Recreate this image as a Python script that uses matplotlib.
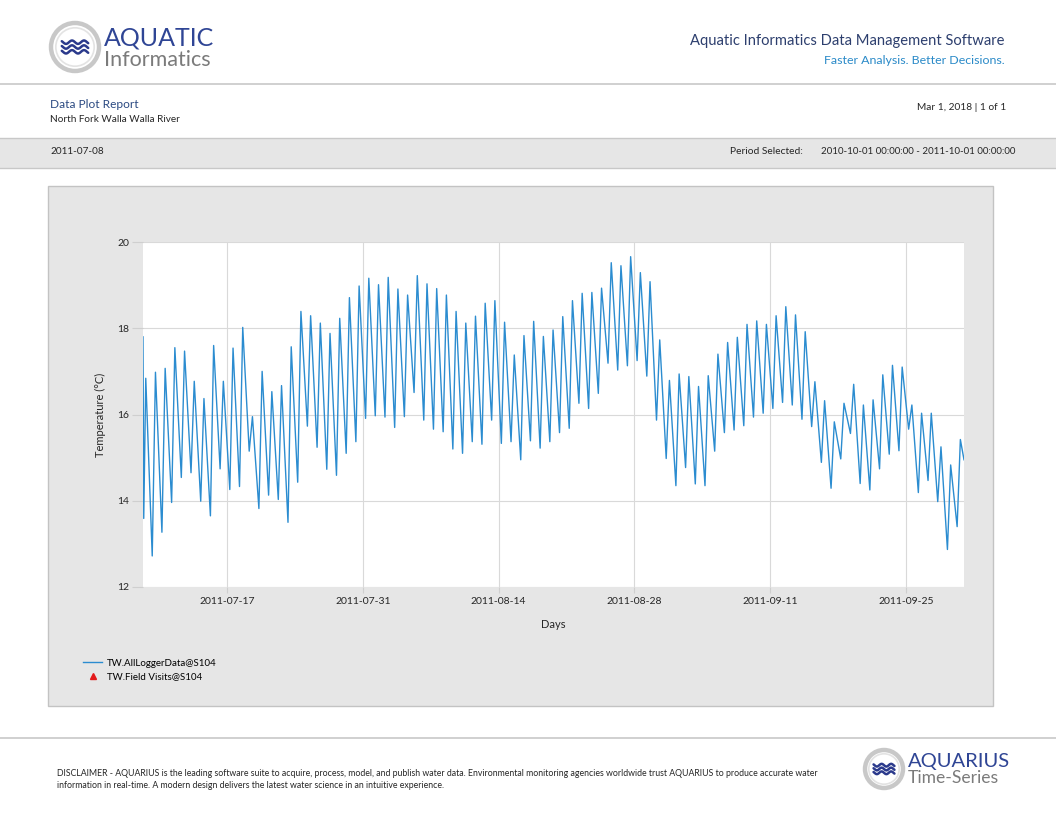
import numpy as np
import pandas as pd
import matplotlib
matplotlib.use("Agg")
import matplotlib.pyplot as plt
from matplotlib.patches import Rectangle, Circle
from matplotlib.lines import Line2D

plt.rcParams['font.family'] = ['Lato', 'DejaVu Sans']

# ---------------- data ----------------
start_date = "2011-07-08"
start_time = "2011-07-08 08:10"
start_value = 17.8
first_trough_time = "2011-07-08 10:00"
end_time = "2011-10-01 00:00"
end_value = 14.95
min_hour = 7
max_hour = 15

daily_min = [13.59, 12.72, 13.27, 13.96, 14.54, 14.65, 13.99, 13.65, 14.74, 14.26,
             14.33, 15.15, 13.82, 14.13, 14.03, 13.50, 14.43, 15.73, 15.24, 14.73,
             14.59, 15.10, 15.37, 15.91, 15.97, 15.94, 15.70, 15.95, 16.51, 15.87,
             15.66, 15.60, 15.20, 15.10, 15.37, 15.31, 15.87, 15.33, 15.37, 14.95,
             15.39, 15.22, 15.37, 15.58, 15.68, 16.26, 16.14, 16.49, 17.19, 17.03,
             17.13, 17.25, 16.89, 15.87, 14.98, 14.35, 14.77, 14.39, 14.35, 15.15,
             15.58, 15.64, 15.74, 15.94, 16.03, 16.14, 16.28, 16.22, 15.89, 15.72,
             14.89, 14.29, 14.97, 15.56, 14.40, 14.25, 14.74, 15.08, 15.16, 15.66,
             14.19, 14.47, 13.98, 12.87, 13.40]
daily_max = [16.84, 16.98, 17.07, 17.55, 17.47, 16.77, 16.37, 17.60, 16.77, 17.54,
             18.02, 15.95, 17.00, 16.53, 16.67, 17.57, 18.39, 18.29, 18.12, 17.88,
             18.23, 18.71, 18.98, 19.16, 19.01, 19.18, 18.91, 18.77, 19.22, 19.03,
             18.92, 18.77, 18.39, 18.12, 18.28, 18.58, 18.64, 18.14, 17.38, 17.83,
             18.16, 17.81, 17.96, 18.27, 18.64, 18.81, 18.83, 18.93, 19.52, 19.45,
             19.66, 19.29, 19.08, 17.73, 16.79, 16.94, 16.88, 16.65, 16.90, 17.40,
             17.67, 17.79, 18.09, 18.17, 18.09, 18.29, 18.50, 18.31, 17.92, 16.76,
             16.32, 15.83, 16.26, 16.70, 16.22, 16.34, 16.92, 17.14, 17.10, 16.22,
             16.03, 16.03, 15.25, 14.83, 15.42]

field_visit_times = []
field_visit_values = []

y_ticks = [12, 14, 16, 18, 20]
x_tick_dates = ["2011-07-17", "2011-07-31", "2011-08-14",
                "2011-08-28", "2011-09-11", "2011-09-25"]
series_label = "TW.AllLoggerData@S104"
field_label = "TW.Field Visits@S104"

# ---------------- series ----------------
days = pd.date_range(start_date, periods=len(daily_min), freq="D")
times = [pd.Timestamp(start_time)]
values = [start_value]
for i, d in enumerate(days):
    tmin = pd.Timestamp(first_trough_time) if i == 0 else d + pd.Timedelta(hours=min_hour)
    times.append(tmin)
    values.append(daily_min[i])
    times.append(d + pd.Timedelta(hours=max_hour))
    values.append(daily_max[i])
times.append(pd.Timestamp(end_time))
values.append(end_value)

# ---------------- figure ----------------
W, H = 1056, 816
fig = plt.figure(figsize=(10.56, 8.16), dpi=100)
fig.patch.set_facecolor("white")
bg = fig.add_axes([0, 0, 1, 1], zorder=0)
bg.set_xlim(0, W)
bg.set_ylim(H, 0)
bg.axis("off")

BLUE = "#2a8ac8"
DARK = "#262626"

# header rules and grey band
bg.plot([0, W], [84, 84], color="#c8c8c8", lw=1.2)
bg.add_patch(Rectangle((0, 138), W, 30, fc="#e6e6e6", ec="none"))
bg.plot([0, W], [138, 138], color="#c8c8c8", lw=1.0)
bg.plot([0, W], [168, 168], color="#c8c8c8", lw=1.0)
bg.plot([0, W], [738, 738], color="#c8c8c8", lw=1.2)

# chart panel
bg.add_patch(Rectangle((48, 186), 945, 520, fc="#e6e6e6", ec="#c3c3c3", lw=1.0))


def draw_logo(cx, cy, r):
    bg.add_patch(Circle((cx, cy), r, fc="white", ec="#c8c8c8", lw=3.2))
    bg.add_patch(Circle((cx, cy), r * 0.8, fc="white", ec="#e3e3e3", lw=1.2))
    xs = np.linspace(cx - 0.55 * r, cx + 0.55 * r, 80)
    for off in (-0.2, 0.0, 0.2):
        ys = cy + off * r + 0.07 * r * np.sin((xs - cx) / r * 4.0 * np.pi)
        bg.plot(xs, ys, color="#2b3a8c", lw=1.8, solid_capstyle="round")


draw_logo(75, 47, 24)
bg.text(104, 38, "AQUATIC", fontsize=18, color="#2f4595", ha="left", va="center")
bg.text(104, 60, "Informatics", fontsize=15.5, color="#7b7b7b", ha="left", va="center")

bg.text(1005, 41, "Aquatic Informatics Data Management Software", fontsize=10.6,
        color="#2d3f6e", ha="right", va="center")
bg.text(1005, 60, "Faster Analysis. Better Decisions.", fontsize=8.9,
        color=BLUE, ha="right", va="center")

bg.text(50, 104, "Data Plot Report", fontsize=8.6, color="#2b4a82", ha="left", va="center")
bg.text(50, 119, "North Fork Walla Walla River", fontsize=7.2, color=DARK, ha="left", va="center")
bg.text(1006, 107, "Mar 1, 2018 | 1 of 1", fontsize=7.3, color=DARK, ha="right", va="center")

bg.text(50, 152, "2011-07-08", fontsize=7.2, color=DARK, ha="left", va="center")
bg.text(803, 152, "Period Selected:", fontsize=7.4, color=DARK, ha="right", va="center")
bg.text(1015, 152, "2010-10-01 00:00:00 - 2011-10-01 00:00:00", fontsize=7.0, color=DARK,
        ha="right", va="center")

# footer
bg.text(57, 774, "DISCLAIMER - AQUARIUS is the leading software suite to acquire, process, model, and "
        "publish water data. Environmental monitoring agencies worldwide trust AQUARIUS to produce "
        "accurate water", fontsize=6.3, color=DARK, ha="left", va="center")
bg.text(57, 786, "information in real-time. A modern design delivers the latest water science in an "
        "intuitive experience.", fontsize=6.3, color=DARK, ha="left", va="center")
draw_logo(884, 769, 19)
bg.text(908, 761, "AQUARIUS", fontsize=14.5, color="#2f4595", ha="left", va="center")
bg.text(908, 778, "Time-Series", fontsize=12.6, color="#7b7b7b", ha="left", va="center")

# ---------------- chart ----------------
ax = fig.add_axes([143 / W, 1 - 587 / H, (964 - 143) / W, (587 - 242) / H], zorder=2)
ax.set_facecolor("white")
line, = ax.plot(times, values, color="#2b8cd0", lw=1.0, label=series_label)
tri, = ax.plot(pd.to_datetime(field_visit_times), field_visit_values, linestyle="none",
               marker="^", color="#e31a1c", markersize=4, label=field_label)
ax.set_xlim(pd.Timestamp(start_time), pd.Timestamp(end_time))
ax.set_ylim(y_ticks[0], y_ticks[-1])
ax.set_yticks(y_ticks)
ax.set_xticks(pd.to_datetime(x_tick_dates))
ax.set_xticklabels(x_tick_dates)
for s in ax.spines.values():
    s.set_visible(False)
ax.grid(True, color="#d9d9d9", lw=0.8)
ax.set_axisbelow(True)
ax.tick_params(axis="y", length=8, width=0.8, color="#cfcfcf", labelsize=7.5,
               labelcolor=DARK, pad=2)
ax.tick_params(axis="x", length=4.5, width=0.8, color="#cfcfcf", labelsize=7.5,
               labelcolor=DARK, pad=3)
ax.set_xlabel("Days", fontsize=8, color=DARK, labelpad=9)
ax.set_ylabel("Temperature (°C)", fontsize=8, color=DARK, labelpad=8)

fig.legend(handles=[line, tri], labels=[series_label, field_label], loc="upper left",
           bbox_to_anchor=(78 / W, 1 - 654 / H), frameon=False, fontsize=7,
           handlelength=2.0, handletextpad=0.5, labelspacing=0.45, borderpad=0)

fig.savefig("out.png", dpi=100, facecolor="white")
